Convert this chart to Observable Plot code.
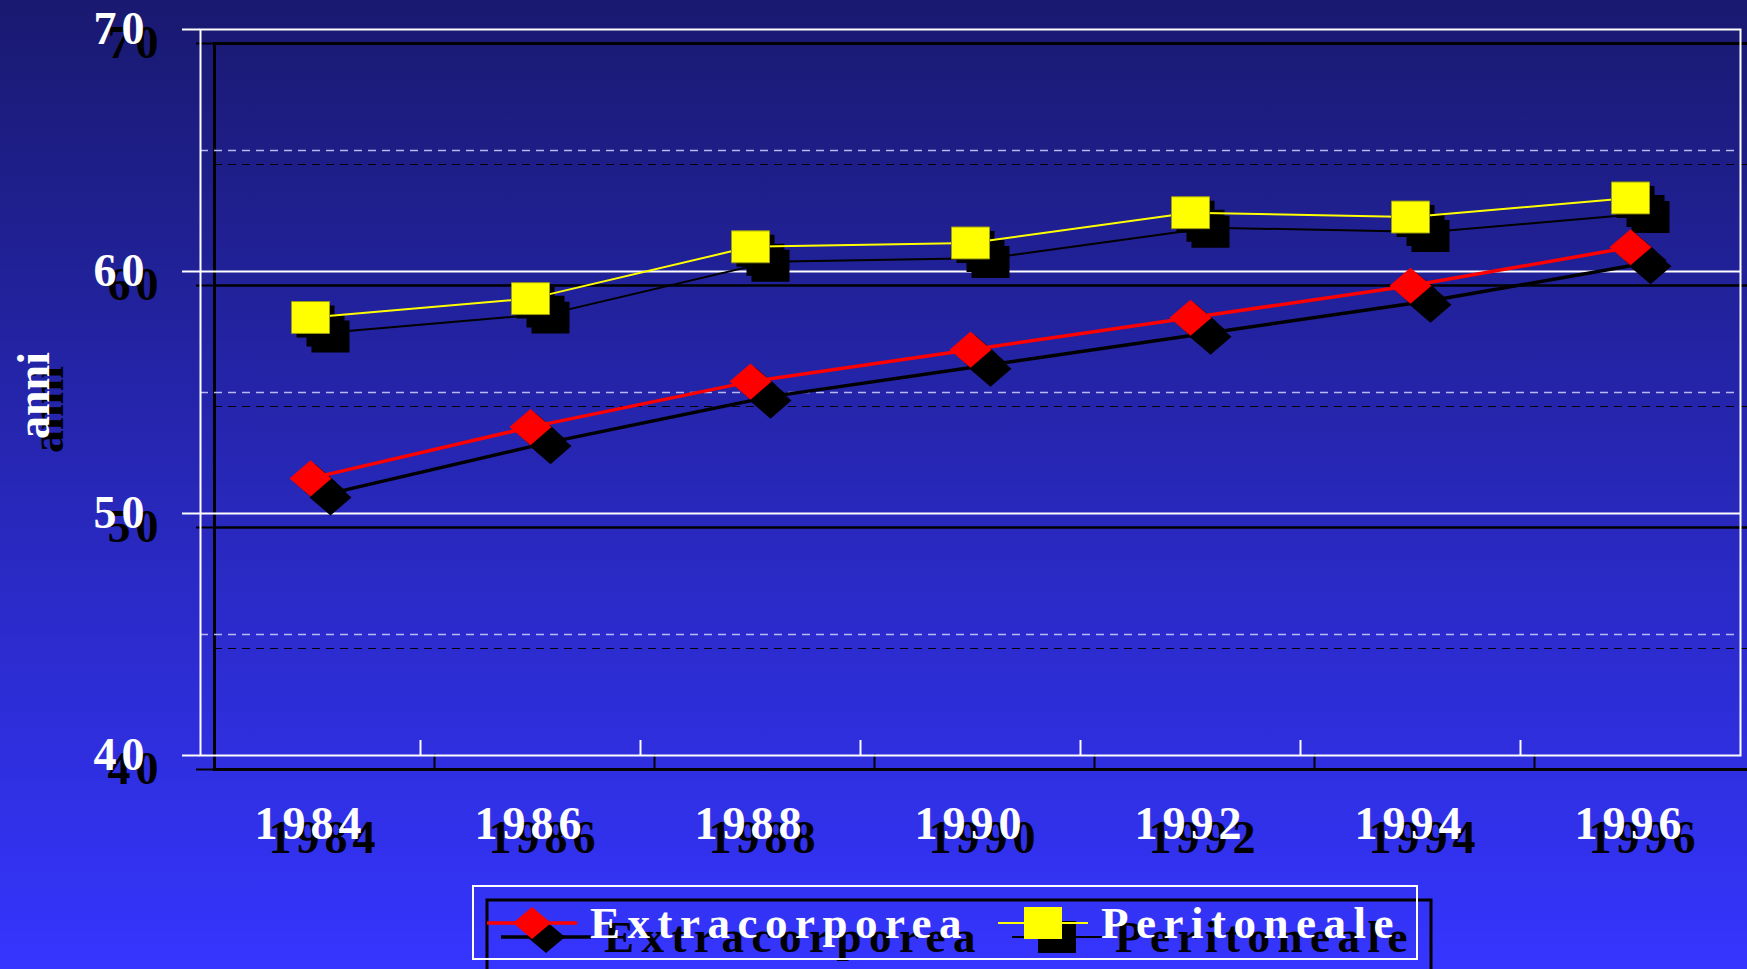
<!DOCTYPE html>
<html><head><meta charset="utf-8">
<script src="https://cdn.jsdelivr.net/npm/d3@7"></script>
<script src="https://cdn.jsdelivr.net/npm/@observablehq/plot@0.6"></script>
<style>
html,body{margin:0;padding:0;}
body{width:1747px;height:969px;overflow:hidden;background:linear-gradient(180deg,#191970 0%,#3535ff 100%);}
#wrap{position:relative;width:1747px;height:969px;}
.layer{position:absolute;left:0;top:0;}
.shadow{left:14px;top:14px;}
svg g[aria-label$="tick label"] text{letter-spacing:5px;}
</style></head><body><div id="wrap"></div>
<script>
// ---- data ----
const years = [1984, 1986, 1988, 1990, 1992, 1994, 1996];
const extracorporea = [51.45, 53.57, 55.45, 56.77, 58.09, 59.41, 61.0];
const peritoneale = [58.1, 58.88, 61.02, 61.18, 62.43, 62.25, 63.04];
const seriesNames = ["Extracorporea", "Peritoneale"];
const yTicks = [40, 50, 60, 70];
const solidGrid = [50, 60];
const dashedGrid = [45, 55, 65];
const yLabel = "anni";

const extraRows = years.map((y, i) => ({year: y, value: extracorporea[i]}));
const periRows = years.map((y, i) => ({year: y, value: peritoneale[i]}));
const step = years[1] - years[0];
const boundaries = years.slice(1).map((y, i) => (years[i] + y) / 2);
const xDomain = [years[0] - step / 2, years[years.length - 1] + step / 2];

const W = 1747, H = 880, mTop = 29, mBottom = 125, mLeft = 200, mRight = 7;
const plotH = H - mTop - mBottom;
const FONT = "'Liberation Serif','Times New Roman',serif";

const diamond = {draw(ctx, size) { const r = Math.sqrt(size / Math.PI), h = r * 0.86;
  ctx.moveTo(0, -h); ctx.lineTo(r, 0); ctx.lineTo(0, h); ctx.lineTo(-r, 0); ctx.closePath(); }};
const box = {draw(ctx, size) { const r = Math.sqrt(size / Math.PI), h = r * 0.84;
  ctx.rect(-r, -h, 2 * r, 2 * h); }};

function chart(shadow) {
  const ink = shadow ? "black" : "white";
  const marks = [
    Plot.ruleY(dashedGrid, {stroke: shadow ? "black" : "#b8b8f2", strokeWidth: shadow ? 1.2 : 1.5, strokeDasharray: "8,6"}),
    Plot.ruleY(solidGrid, {stroke: ink, strokeWidth: shadow ? 2.5 : 2}),
    Plot.frame({stroke: ink, strokeWidth: shadow ? 3 : 2}),
    Plot.tickX(boundaries, {x: d => d, stroke: ink, strokeWidth: 2, insetTop: plotH - 15}),
    Plot.axisY({ticks: yTicks, label: null, tickSize: 18, tickPadding: 33, fontSize: 46, fontWeight: "bold", color: ink, strokeWidth: 2}),
    Plot.axisX({ticks: years, label: null, tickSize: 0, tickPadding: 51, fontSize: 46, fontWeight: "bold", color: ink, tickFormat: d => String(d)}),
    Plot.text([yLabel], {frameAnchor: "left", rotate: -90, dx: -152, dy: 3, fontSize: 46, fontWeight: "bold", fill: ink, textAnchor: "middle", lineAnchor: "bottom"})
  ];
  if (!shadow) {
    const offs = [[5, 4], [15, 13], [20, 19]];
    marks.push(
      Plot.line(periRows, {x: "year", y: "value", stroke: "black", strokeWidth: 2, dx: 20, dy: 15}),
      Plot.line(extraRows, {x: "year", y: "value", stroke: "black", strokeWidth: 3.5, dx: 20, dy: 15}),
      ...offs.map(([dx, dy]) => Plot.dot(periRows, {x: "year", y: "value", symbol: box, r: 19, fill: "black", dx, dy})),
      ...offs.map(([dx, dy]) => Plot.dot(extraRows, {x: "year", y: "value", symbol: diamond, r: 21, fill: "black", dx, dy})),
      Plot.line(periRows, {x: "year", y: "value", stroke: "#ffff00", strokeWidth: 2}),
      Plot.line(extraRows, {x: "year", y: "value", stroke: "#ff0000", strokeWidth: 3.5}),
      Plot.dot(periRows, {x: "year", y: "value", symbol: box, r: 19, fill: "#ffff00", stroke: "#9a9a10", strokeWidth: 1}),
      Plot.dot(extraRows, {x: "year", y: "value", symbol: diamond, r: 21, fill: "#ff0000"})
    );
  }
  const svg = Plot.plot({
    width: W, height: H,
    marginTop: mTop, marginBottom: mBottom, marginLeft: mLeft, marginRight: mRight,
    x: {type: "linear", domain: xDomain, label: null},
    y: {domain: [yTicks[0], yTicks[yTicks.length - 1]], label: null},
    style: {background: "transparent", fontFamily: FONT, fontWeight: "bold", fontSize: "46px", overflow: "visible"},
    marks
  });
  svg.classList.add("layer");
  if (shadow) svg.classList.add("shadow");
  return svg;
}

function legend(shadow) {
  const ink = shadow ? "black" : "white";
  const svg = d3.create("svg").attr("width", 990).attr("height", 95)
    .attr("class", shadow ? "layer shadow" : "layer")
    .style("left", (470 + (shadow ? 14 : 0)) + "px").style("top", (880 + (shadow ? 14 : 0)) + "px")
    .style("overflow", "visible");
  svg.append("rect").attr("x", 3).attr("y", 6).attr("width", 944).attr("height", 73)
    .attr("fill", "none").attr("stroke", ink).attr("stroke-width", shadow ? 3 : 2);
  const items = [
    {name: seriesNames[0], x: 17, color: "#ff0000", sw: 3.5, sym: "diamond"},
    {name: seriesNames[1], x: 528, color: "#ffff00", sw: 2, sym: "box"}
  ];
  for (const it of items) {
    const c = shadow ? "black" : it.color;
    const cy = 43;
    svg.append("line").attr("x1", it.x).attr("x2", it.x + 90).attr("y1", cy).attr("y2", cy)
      .attr("stroke", c).attr("stroke-width", it.sw);
    const cx = it.x + 45;
    if (it.sym === "diamond") {
      svg.append("path").attr("d", `M${cx},${cy - 16}L${cx + 19},${cy}L${cx},${cy + 16}L${cx - 19},${cy}Z`).attr("fill", c);
    } else {
      svg.append("rect").attr("x", cx - 19).attr("y", cy - 16).attr("width", 38).attr("height", 32).attr("fill", c);
    }
    svg.append("text").attr("x", it.x + 103).attr("y", 58).text(it.name)
      .attr("fill", ink).attr("font-family", FONT).attr("font-weight", "bold")
      .attr("font-size", 45).style("letter-spacing", "7.5px");
  }
  return svg.node();
}

const wrap = document.getElementById("wrap");
wrap.appendChild(chart(true));
wrap.appendChild(chart(false));
wrap.appendChild(legend(true));
wrap.appendChild(legend(false));
</script>
</body></html>
